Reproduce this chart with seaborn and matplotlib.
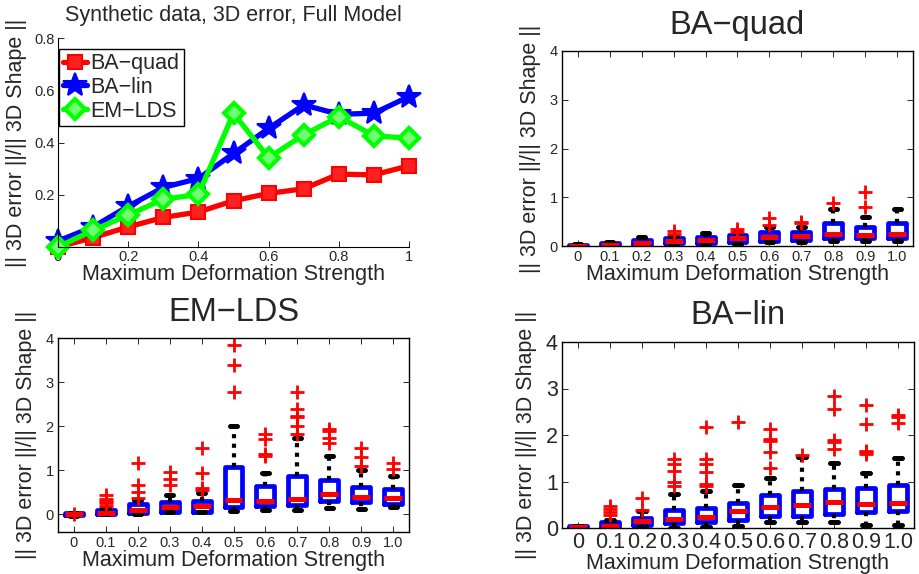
import numpy as np
import pandas as pd
import seaborn as sns
import matplotlib.pyplot as plt

# top-left panel: mean 3D error per method
strength = [0, 0.1, 0.2, 0.3, 0.4, 0.5, 0.6, 0.7, 0.8, 0.9, 1.0]
ba_quad = [0.0, 0.036, 0.077, 0.113, 0.134, 0.177, 0.205, 0.223, 0.279, 0.276, 0.311]
ba_lin = [0.023, 0.077, 0.156, 0.228, 0.262, 0.358, 0.454, 0.544, 0.508, 0.512, 0.576]
em_lds = [0.0, 0.064, 0.122, 0.183, 0.201, 0.512, 0.342, 0.429, 0.499, 0.426, 0.416]

box_labels = ['0', '0.1', '0.2', '0.3', '0.4', '0.5', '0.6', '0.7', '0.8', '0.9', '1.0']

# box summaries: whisker low, q1, median, q3, whisker high, outliers
quad_lo = [0.0, 0.0, 0.0, 0.0, 0.02, 0.05, 0.08, 0.08, 0.1, 0.1, 0.1]
quad_q1 = [0.0, 0.01, 0.03, 0.06, 0.07, 0.09, 0.11, 0.12, 0.16, 0.16, 0.16]
quad_med = [0.01, 0.03, 0.07, 0.1, 0.12, 0.16, 0.19, 0.2, 0.25, 0.23, 0.25]
quad_q3 = [0.03, 0.06, 0.12, 0.16, 0.19, 0.23, 0.29, 0.29, 0.47, 0.4, 0.47]
quad_hi = [0.04, 0.08, 0.19, 0.2, 0.27, 0.28, 0.4, 0.38, 0.75, 0.59, 0.75]
quad_out = [[], [], [], [0.25, 0.3], [], [0.29, 0.35], [0.43, 0.57], [0.47, 0.5],
            [0.88], [0.79, 1.1], []]

lds_lo = [-0.03, 0.0, 0.0, 0.05, 0.05, 0.08, 0.1, 0.1, 0.15, 0.13, 0.16]
lds_q1 = [-0.02, 0.01, 0.02, 0.06, 0.06, 0.16, 0.18, 0.22, 0.3, 0.27, 0.24]
lds_med = [0.0, 0.04, 0.1, 0.17, 0.18, 0.32, 0.31, 0.34, 0.47, 0.4, 0.38]
lds_q3 = [0.02, 0.11, 0.23, 0.28, 0.31, 1.08, 0.64, 0.86, 0.78, 0.61, 0.57]
lds_hi = [0.03, 0.15, 0.33, 0.44, 0.48, 2.0, 0.93, 1.73, 1.33, 1.0, 0.86]
lds_out = [[0.0], [0.2, 0.25, 0.3, 0.35, 0.45], [0.38, 0.5, 0.67, 1.17],
           [0.67, 0.8, 0.95], [0.55, 0.59, 0.93, 1.5], [2.77, 3.39, 3.83],
           [1.32, 1.38, 1.72, 1.83], [1.83, 2.0, 2.2, 2.24, 2.39, 2.77],
           [1.61, 1.73, 1.88, 1.94], [1.1, 1.31, 1.5], [1.02, 1.16]]

lin_lo = [0.0, 0.0, 0.03, 0.0, 0.03, 0.05, 0.13, 0.13, 0.13, 0.07, 0.07]
lin_q1 = [0.0, 0.0, 0.07, 0.1, 0.12, 0.17, 0.26, 0.26, 0.31, 0.34, 0.36]
lin_med = [0.02, 0.05, 0.14, 0.2, 0.24, 0.37, 0.46, 0.5, 0.56, 0.52, 0.53]
lin_q3 = [0.04, 0.12, 0.22, 0.39, 0.43, 0.54, 0.7, 0.8, 0.84, 0.86, 0.93]
lin_hi = [0.05, 0.18, 0.37, 0.74, 0.8, 0.92, 1.08, 1.52, 1.39, 1.19, 1.51]
lin_out = [[], [0.27, 0.34, 0.41, 0.48], [0.38, 0.65], [0.9, 1.0, 1.22, 1.38, 1.48],
           [0.91, 0.95, 1.2, 1.38, 1.49, 2.17], [2.28], [1.29, 1.63, 1.88, 1.91, 2.13],
           [1.56], [1.7, 1.84, 1.89, 2.56, 2.84], [1.59, 1.63, 1.66, 2.24, 2.65],
           [2.25, 2.39, 2.44]]

sns.set_style("white")
plt.rcParams['font.family'] = ['Liberation Sans', 'DejaVu Sans']
plt.rcParams['axes.unicode_minus'] = False

W, H = 920, 574
fig = plt.figure(figsize=(W / 100, H / 100), dpi=100)


def px_axes(l, t, r, b):
    return fig.add_axes([l / W, (H - b) / H, (r - l) / W, (b - t) / H])


ylab = '|| 3D error ||/|| 3D Shape ||'
xlab = 'Maximum Deformation Strength'

# ---- line panel
ax = px_axes(58, 38, 409, 247)
df = pd.DataFrame({'x': strength, 'BA−quad': ba_quad, 'BA−lin': ba_lin, 'EM−LDS': em_lds})
sns.lineplot(data=df, x='x', y='BA−quad', ax=ax, color='#ff0000', lw=3.8, marker='s',
             markersize=10, markeredgecolor='#ff0000', markerfacecolor='#ff2020',
             markeredgewidth=1.5, label='BA−quad', clip_on=False)
sns.lineplot(data=df, x='x', y='BA−lin', ax=ax, color='#0000ff', lw=3.8, marker='*',
             markersize=18, markeredgecolor='#0000ff', markeredgewidth=1.5,
             label='BA−lin', clip_on=False)
sns.lineplot(data=df, x='x', y='EM−LDS', ax=ax, color='#00ff00', lw=3.8, marker='D',
             markersize=10, markerfacecolor='#70ff70', markeredgecolor='#00ff00',
             markeredgewidth=3, label='EM−LDS', clip_on=False)
ax.set_xlim(0, 1)
ax.set_ylim(0, 0.8)
ax.set_xticks([0, 0.2, 0.4, 0.6, 0.8, 1])
ax.set_xticklabels(['0', '0.2', '0.4', '0.6', '0.8', '1'])
ax.set_yticks([0, 0.2, 0.4, 0.6, 0.8])
ax.set_yticklabels(['0', '0.2', '0.4', '0.6', '0.8'])
ax.spines['top'].set_visible(False)
ax.spines['right'].set_visible(False)
for s in ['left', 'bottom']:
    ax.spines[s].set_color('black')
    ax.spines[s].set_linewidth(0.8)
ax.tick_params(direction='in', length=4, width=0.7, labelsize=10.5, pad=2,
               left=True, bottom=True)
ax.set_title('Synthetic data, 3D error, Full Model', fontsize=15.5, pad=12)
ax.set_xlabel(xlab, fontsize=15.5, labelpad=0)
ax.set_ylabel(ylab, fontsize=15.5, labelpad=6)
leg = ax.legend(loc='upper left', bbox_to_anchor=(0.003, 0.947), borderaxespad=0,
                fontsize=15.5, handlelength=1.1, handletextpad=0.15, labelspacing=0.12,
                borderpad=0.2, fancybox=False, framealpha=1, edgecolor='black')
leg.get_frame().set_linewidth(1.0)


def box_panel(rect, title, lo, q1, med, q3, hi, out, ylim, tick_size, title_pad):
    ax = px_axes(*rect)
    stats = []
    for i in range(len(box_labels)):
        stats.append({'whislo': lo[i], 'q1': q1[i], 'med': med[i], 'q3': q3[i],
                      'whishi': hi[i], 'fliers': out[i], 'label': box_labels[i]})
    ax.bxp(stats, positions=range(1, 12), widths=0.56, capwidths=0.22,
           boxprops=dict(color='#0000ff', lw=3.4, solid_joinstyle='round'),
           medianprops=dict(color='#ff0000', lw=3.6, solid_capstyle='butt'),
           whiskerprops=dict(color='black', lw=3, linestyle=(0, (1, 1.3)),
                             dash_capstyle='butt'),
           capprops=dict(color='black', lw=3.6),
           flierprops=dict(marker='+', markeredgecolor='#ff0000', markersize=10,
                           markeredgewidth=2, linestyle='none'))
    ax.set_xlim(0.5, 11.5)
    ax.set_ylim(*ylim)
    ax.set_yticks([0, 1, 2, 3, 4])
    ax.set_yticklabels(['0', '1', '2', '3', '4'])
    ax.set_xticks(range(1, 12))
    ax.set_xticklabels(box_labels)
    for s in ax.spines.values():
        s.set_visible(True)
        s.set_color('black')
        s.set_linewidth(1.0)
    ax.tick_params(direction='in', length=4, width=0.7, labelsize=tick_size, pad=3,
                   left=True, bottom=True, top=True, right=True)
    ax.set_title(title, fontsize=23.5, pad=title_pad)
    ax.set_xlabel(xlab, fontsize=15.5, labelpad=0)
    ax.set_ylabel(ylab, fontsize=15.5, labelpad=6)
    return ax


box_panel((562, 51, 913, 246), 'BA−quad', quad_lo, quad_q1, quad_med, quad_q3, quad_hi,
          quad_out, (0, 4), 10.5, 12)
box_panel((58, 338, 409, 532), 'EM−LDS', lds_lo, lds_q1, lds_med, lds_q3, lds_hi,
          lds_out, (-0.4, 4), 10.5, 12)
box_panel((562, 342, 914, 528), 'BA−lin', lin_lo, lin_q1, lin_med, lin_q3, lin_hi,
          lin_out, (0, 4), 15.5, 13)

fig.savefig('out.png', dpi=100)
